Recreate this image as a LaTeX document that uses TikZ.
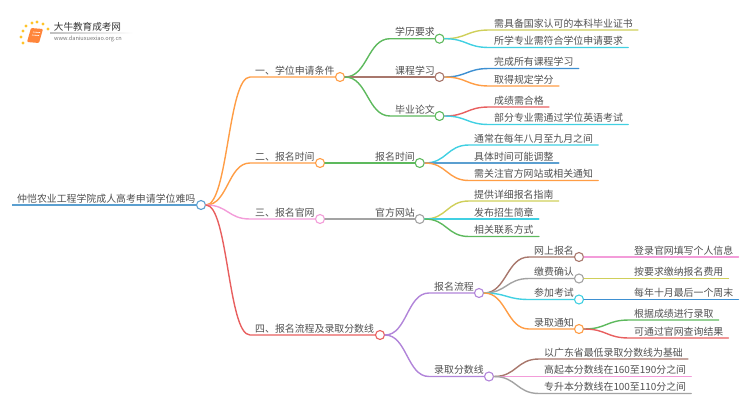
\documentclass[tikz,border=0pt]{standalone}
\usepackage{fontspec}
\setmainfont{Noto Sans CJK SC}
\usetikzlibrary{calc}
\definecolor{cRoot}{HTML}{5B9FD0}
\definecolor{cOrange}{HTML}{FF9D45}
\definecolor{cPink}{HTML}{F39CD9}
\definecolor{cRed}{HTML}{E85F5F}
\definecolor{cGreen}{HTML}{5DB95D}
\definecolor{cBrown}{HTML}{A8776C}
\definecolor{cGray}{HTML}{A3A3A3}
\definecolor{cPurple}{HTML}{B184D9}
\definecolor{cOlive}{HTML}{CFCF5A}
\definecolor{cCyan}{HTML}{41D0E2}
\definecolor{cBlue}{HTML}{3E90D2}
\definecolor{cInk}{HTML}{505050}
\def\branch#1#2#3#4{%
    \draw [link, #1] (#2.east) .. controls ($(#2.east)!0.5!(#2.east -| #3.south west)$)
        and ($(#3.south west)!0.5!(#3.south west -| #2.east)$) .. (#3.south west) -- (#4);
}

\begin{document}
\begin{tikzpicture}[
            x=1pt, y=-1pt,
            topic/.style={%
                anchor=south west, inner xsep=5pt, inner ysep=1.8pt,%
                text=cInk, font=\fontsize{9.9pt}{11pt}\selectfont%
            },
            joint/.style={%
                circle, draw=#1, fill=white, line width=1.1pt,%
                minimum size=9pt, inner sep=0pt%
            },
            link/.style={line width=1.4pt, line cap=round}
        ]
        \useasboundingbox (0,0) rectangle (750,410);

        % Logo
        \foreach \dotx/\doty in {23/31, 26/26, 32/23, 37/22, 43/24, 48/29, 21/37, 23/43}
            \fill [cOrange!60!yellow] (\dotx,\doty) circle (1.7pt);
        \fill [cOrange!85!red, rounded corners=1pt]
            (31,28) -- (43,29) -- (39,43) -- (27,42) -- cycle;
        \draw [white, line width=0.6pt] (33,32) -- (40,32.5) (32,35) -- (39,35.5);
        \node (logoName) at (87.5,27) [text=black!80, font=\fontsize{9.6pt}{11pt}\selectfont, inner sep=0pt] {大牛教育成考网};
        \node (logoUrl) at (88,39) [text=black!55, font=\fontsize{5.6pt}{7pt}\selectfont, inner sep=0pt] {www.daniuxuexiao.org.cn};
        \fill [left color=black!25, right color=white] (50,32.8) rectangle (133,33.4);

        % Define nodes
        \node (root) at (12,205) [topic] {仲恺农业工程学院成人高考申请学位难吗};
        \node (rootJ) at (201,205) [joint=cRoot] {};

        \node (cond) at (250,77) [topic] {一、学位申请条件};
        \node (condJ) at (340,77) [joint=cOrange] {};
        \node (time) at (250,163) [topic] {二、报名时间};
        \node (timeJ) at (320,163) [joint=cOrange] {};
        \node (site) at (250,219) [topic] {三、报名官网};
        \node (siteJ) at (320,219) [joint=cPink] {};
        \node (flow) at (250,335) [topic] {四、报名流程及录取分数线};
        \node (flowJ) at (380,335) [joint=cRed] {};

        \node (edu) at (390,38.7) [topic] {学历要求};
        \node (eduJ) at (439.5,38.7) [joint=cGreen] {};
        \node (course) at (390,77) [topic] {课程学习};
        \node (courseJ) at (439.5,77) [joint=cBrown] {};
        \node (thesis) at (390,116) [topic] {毕业论文};
        \node (thesisJ) at (439.5,116) [joint=cGreen] {};
        \node (timeSub) at (370,163) [topic] {报名时间};
        \node (timeSubJ) at (419.7,163) [joint=cGreen] {};
        \node (siteSub) at (370,219) [topic] {官方网站};
        \node (siteSubJ) at (419.7,219) [joint=cGray] {};
        \node (steps) at (429,293) [topic] {报名流程};
        \node (stepsJ) at (479,293) [joint=cPurple] {};
        \node (score) at (429,376.5) [topic] {录取分数线};
        \node (scoreJ) at (489,376.5) [joint=cPurple] {};

        \node (edu1) at (489,30) [topic] {需具备国家认可的本科毕业证书};
        \node (edu2) at (489,47.5) [topic] {所学专业需符合学位申请要求};
        \node (course1) at (489,68.5) [topic] {完成所有课程学习};
        \node (course2) at (489,86) [topic] {取得规定学分};
        \node (thesis1) at (489,107) [topic] {成绩需合格};
        \node (thesis2) at (489,124.5) [topic] {部分专业需通过学位英语考试};
        \node (time1) at (469,145) [topic] {通常在每年八月至九月之间};
        \node (time2) at (469,163) [topic] {具体时间可能调整};
        \node (time3) at (469,180.5) [topic] {需关注官方网站或相关通知};
        \node (site1) at (469,201) [topic] {提供详细报名指南};
        \node (site2) at (469,219) [topic] {发布招生简章};
        \node (site3) at (469,236.5) [topic] {相关联系方式};

        \node (online) at (529,257) [topic] {网上报名};
        \node (onlineJ) at (579,257) [joint=cBrown] {};
        \node (pay) at (529,278.5) [topic] {缴费确认};
        \node (payJ) at (579,278.5) [joint=cGray] {};
        \node (exam) at (529,299.5) [topic] {参加考试};
        \node (examJ) at (579,299.5) [joint=cCyan] {};
        \node (admit) at (529,329) [topic] {录取通知};
        \node (admitJ) at (579,329) [joint=cOrange] {};

        \node (online1) at (629,257) [topic] {登录官网填写个人信息};
        \node (pay1) at (629,278.5) [topic] {按要求缴纳报名费用};
        \node (exam1) at (629,299.5) [topic] {每年十月最后一个周末};
        \node (admit1) at (629,320) [topic] {根据成绩进行录取};
        \node (admit2) at (629,338) [topic] {可通过官网查询结果};
        \node (score1) at (539,359) [topic] {以广东省最低录取分数线为基础};
        \node (score2) at (539,376.5) [topic] {高起本分数线在160至190分之间};
        \node (score3) at (539,393.5) [topic] {专升本分数线在100至110分之间};

        % Connectors
        \draw [cRoot, line width=2.2pt] (root.south west) -- (rootJ.west);

        \branch{cOrange}{rootJ}{cond}{condJ.west}
        \branch{cOrange}{rootJ}{time}{timeJ.west}
        \branch{cPink}{rootJ}{site}{siteJ.west}
        \branch{cRed}{rootJ}{flow}{flowJ.west}

        \branch{cGreen}{condJ}{edu}{eduJ.west}
        \branch{cBrown}{condJ}{course}{courseJ.west}
        \branch{cGreen}{condJ}{thesis}{thesisJ.west}
        \branch{cGreen, line width=1.8pt}{timeJ}{timeSub}{timeSubJ.west}
        \branch{cGray}{siteJ}{siteSub}{siteSubJ.west}
        \branch{cPurple}{flowJ}{steps}{stepsJ.west}
        \branch{cPurple}{flowJ}{score}{scoreJ.west}

        \branch{cOlive}{eduJ}{edu1}{edu1.south east}
        \branch{cCyan}{eduJ}{edu2}{edu2.south east}
        \branch{cBlue}{courseJ}{course1}{course1.south east}
        \branch{cOrange}{courseJ}{course2}{course2.south east}
        \branch{cRed}{thesisJ}{thesis1}{thesis1.south east}
        \branch{cCyan}{thesisJ}{thesis2}{thesis2.south east}
        \branch{cCyan}{timeSubJ}{time1}{time1.south east}
        \branch{cRoot, line width=1.8pt}{timeSubJ}{time2}{time2.south east}
        \branch{cOrange}{timeSubJ}{time3}{time3.south east}
        \branch{cOlive}{siteSubJ}{site1}{site1.south east}
        \branch{cCyan}{siteSubJ}{site2}{site2.south east}
        \branch{cGreen}{siteSubJ}{site3}{site3.south east}

        \branch{cBrown}{stepsJ}{online}{onlineJ.west}
        \branch{cGray}{stepsJ}{pay}{payJ.west}
        \branch{cCyan}{stepsJ}{exam}{examJ.west}
        \branch{cOrange}{stepsJ}{admit}{admitJ.west}

        \branch{cPink}{onlineJ}{online1}{online1.south east}
        \branch{cOlive}{payJ}{pay1}{pay1.south east}
        \branch{cBlue}{examJ}{exam1}{exam1.south east}
        \branch{cGreen}{admitJ}{admit1}{admit1.south east}
        \branch{cRed}{admitJ}{admit2}{admit2.south east}
        \branch{cBrown}{scoreJ}{score1}{score1.south east}
        \branch{cPink}{scoreJ}{score2}{score2.south east}
        \branch{cGray}{scoreJ}{score3}{score3.south east}
\end{tikzpicture}
\end{document}
